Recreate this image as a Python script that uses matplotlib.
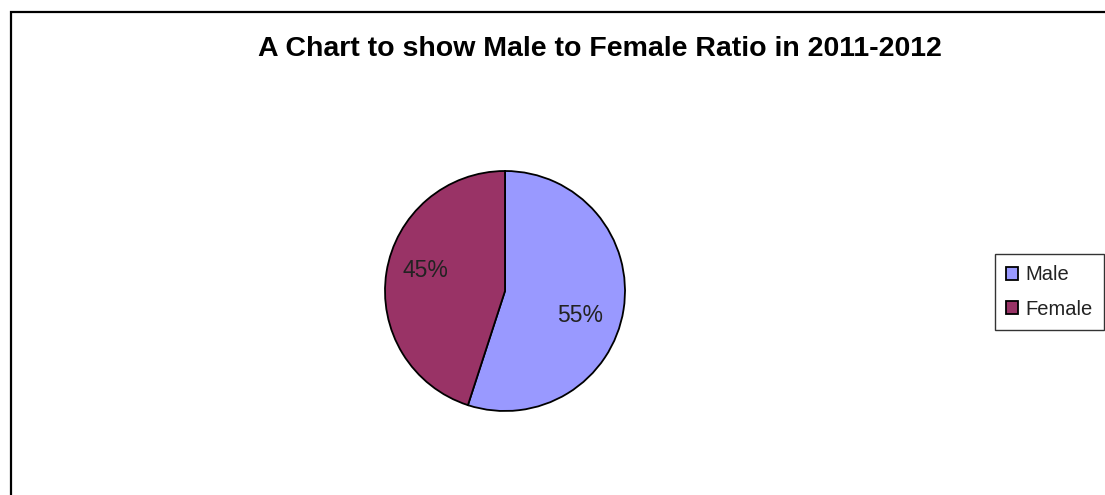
import matplotlib.pyplot as plt
from matplotlib.patches import Rectangle

# data
labels = ['Male', 'Female']
shares = [55, 45]
colors = ['#9999FF', '#993366']
title = 'A Chart to show Male to Female Ratio in 2011-2012'

plt.rcParams['font.family'] = ['Liberation Sans', 'DejaVu Sans']

W, H = 1105, 495
fig = plt.figure(figsize=(W / 100, H / 100), dpi=100)

# outer chart frame (runs off the right and bottom edges)
fig.patches.append(Rectangle((11 / W, -0.05), 1.2, 1 - 12 / H + 0.05,
                             transform=fig.transFigure, fill=False,
                             edgecolor='black', linewidth=1.6))

# pie axes: centre ~ (505, 291), radius ~120 px
r = 120
cx, cy = 505, 291
ax = fig.add_axes([(cx - r) / W, (H - cy - r) / H, 2 * r / W, 2 * r / H])
wedges, texts, autotexts = ax.pie(
    shares, colors=colors, startangle=90, counterclock=False,
    autopct='%1.0f%%', pctdistance=0.67,
    wedgeprops=dict(edgecolor='black', linewidth=1.3),
    textprops=dict(fontsize=16.5, color='#222222'))
ax.set_aspect('equal')
ax.set_xlim(-1, 1)
ax.set_ylim(-1, 1)

# nudge the percentage labels the way the original sits them
autotexts[0].set_position((0.625, -0.2))
autotexts[1].set_position((-0.665, 0.17))

fig.text(600 / W, 1 - 49 / H, title, ha='center', va='center',
         fontsize=20.5, fontweight='bold')

leg = fig.legend(wedges, labels, loc='center left',
                 bbox_to_anchor=(995 / W, 1 - 292 / H),
                 fontsize=14.5, frameon=True, fancybox=False,
                 edgecolor='black', handlelength=0.6, handleheight=0.6,
                 handletextpad=0.35, labelspacing=0.75, borderpad=0.55,
                 borderaxespad=0)
leg.get_frame().set_linewidth(1.0)
for t in leg.get_texts():
    t.set_color('#222222')

fig.savefig('out.png', dpi=100)
